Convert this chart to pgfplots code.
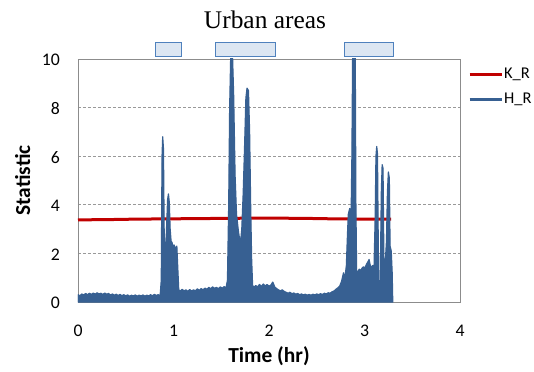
\documentclass[border=0pt]{standalone}
\usepackage{pgfplots}
\pgfplotsset{compat=1.18}
\usepackage{fontspec}
\setmainfont{Carlito}
\newfontfamily\titlefont{Liberation Serif}
\definecolor{hblue}{RGB}{55,96,146}
\definecolor{kred}{RGB}{192,0,0}
\definecolor{boxfill}{RGB}{220,230,242}
\definecolor{boxline}{RGB}{79,129,189}
\begin{document}
\begin{tikzpicture}
\begin{axis}[
  name=ax, scale only axis, width=382bp, height=243bp,
  xmin=0, xmax=4, ymin=0, ymax=10,
  xtick={0,1,2,3,4}, ytick={0,2,4,6,8,10},
  ymajorgrids, grid style={dash pattern=on 3bp off 2bp, line width=0.9bp, black!40},
  axis line style={black!45, line width=0.8bp},
  major tick length=0pt,
  /pgf/number format/assume math mode=true,
  tick label style={font=\fontsize{17.8}{20}\selectfont},
  xticklabel style={anchor=center, yshift=-29bp},
  yticklabel style={anchor=east, inner sep=0pt, xshift=-18bp, yshift=-1bp},
  xlabel={Time (hr)}, ylabel={Statistic},
  label style={font=\bfseries\fontsize{21.5}{24}\selectfont},
  xlabel style={at={(axis description cs:0.5,0)}, anchor=center, yshift=-54bp},
  ylabel style={at={(axis description cs:-0.145,0.5)}, anchor=center, rotate=0},
  title={Urban areas},
  title style={font=\titlefont\fontsize{25.5}{30}\selectfont, at={(axis description cs:0.5,1)}, anchor=center, yshift=33bp, xshift=-4bp},
  legend style={draw=none, fill=none, at={(axis description cs:1.013,0.883)}, anchor=west,
    font=\fontsize{16.5}{19}\selectfont, row sep=9bp,
    nodes={inner sep=1bp, text height=11bp, text depth=3bp}},
  legend cell align=left,
  legend image code/.code={\draw[#1, line width=3bp] (0bp,0bp) -- (32bp,0bp);},
]
\addplot[kred, line width=3bp] coordinates {
(0,3.38) (0.3,3.39) (0.6,3.41) (0.9,3.42) (1.2,3.43) (1.5,3.44) (1.8,3.45)
(2.1,3.45) (2.4,3.44) (2.7,3.42) (3.0,3.41) (3.28,3.41)};
\addlegendentry{K\_R}
\addplot[hblue, fill=hblue, line width=1.2bp, line join=round, forget plot] coordinates {
(0.00,0.30) (0.02,0.26) (0.04,0.33) (0.06,0.29) (0.08,0.35) (0.10,0.30) (0.12,0.36)
(0.14,0.31) (0.16,0.37) (0.18,0.32) (0.20,0.38) (0.22,0.33) (0.24,0.36) (0.26,0.31)
(0.28,0.37) (0.30,0.32) (0.32,0.35) (0.34,0.29) (0.36,0.33) (0.38,0.28) (0.40,0.32)
(0.42,0.27) (0.44,0.31) (0.46,0.26) (0.48,0.30) (0.50,0.25) (0.52,0.29) (0.54,0.24)
(0.56,0.28) (0.58,0.25) (0.60,0.29) (0.62,0.24) (0.64,0.28) (0.66,0.25) (0.68,0.29)
(0.70,0.24) (0.72,0.28) (0.74,0.25) (0.76,0.30) (0.78,0.26) (0.80,0.31) (0.82,0.27)
(0.84,0.30) (0.86,0.26)
(0.872,0.9) (0.880,6.0) (0.887,6.8) (0.895,6.3) (0.903,2.6) (0.912,2.0) (0.925,2.8)
(0.938,4.2) (0.947,4.45) (0.956,4.1) (0.965,3.0) (0.975,2.5) (0.985,2.45) (0.995,2.2)
(1.005,2.35) (1.02,2.2) (1.035,2.3) (1.045,1.4) (1.055,0.5)
(1.07,0.45) (1.09,0.52) (1.11,0.46) (1.13,0.50) (1.15,0.44) (1.17,0.51) (1.19,0.45)
(1.21,0.50) (1.23,0.46) (1.25,0.54) (1.27,0.48) (1.29,0.55) (1.31,0.50) (1.33,0.57)
(1.35,0.52) (1.37,0.60) (1.39,0.55) (1.41,0.62) (1.43,0.56) (1.45,0.60) (1.47,0.55)
(1.49,0.62) (1.51,0.57) (1.53,0.63) (1.55,0.58)
(1.565,0.9) (1.578,4.0) (1.588,8.0) (1.600,10.3) (1.617,10.3) (1.630,8.5) (1.645,5.2)
(1.66,3.6) (1.68,2.9) (1.70,2.4) (1.715,3.0) (1.73,4.5) (1.745,6.5) (1.758,8.4)
(1.770,8.8) (1.785,8.7) (1.797,7.0) (1.808,4.0) (1.818,1.8) (1.828,0.7)
(1.84,0.60) (1.86,0.68) (1.88,0.62) (1.90,0.72) (1.92,0.64) (1.94,0.74) (1.96,0.66)
(1.98,0.72) (2.00,0.65) (2.02,0.70) (2.04,0.82) (2.06,0.62) (2.08,0.55) (2.10,0.50)
(2.12,0.46) (2.14,0.50) (2.16,0.43) (2.18,0.40) (2.20,0.36) (2.22,0.40) (2.24,0.34)
(2.26,0.37) (2.28,0.32) (2.30,0.35) (2.32,0.30) (2.34,0.33) (2.36,0.29) (2.38,0.32)
(2.40,0.28) (2.42,0.31) (2.44,0.28) (2.46,0.32) (2.48,0.29) (2.50,0.33) (2.52,0.30)
(2.54,0.34) (2.56,0.31) (2.58,0.36) (2.60,0.33) (2.62,0.38) (2.64,0.36) (2.66,0.42)
(2.68,0.45) (2.70,0.52) (2.72,0.58) (2.74,0.65) (2.76,0.85) (2.78,1.2) (2.795,1.0)
(2.81,1.5) (2.82,2.6) (2.83,3.6) (2.845,3.85) (2.86,3.6) (2.868,6.0) (2.876,10.3)
(2.903,10.3) (2.91,4.0) (2.918,1.1) (2.93,1.25) (2.945,1.35) (2.96,1.3) (2.975,1.4)
(2.99,1.45) (3.005,1.4) (3.02,1.55) (3.035,1.65) (3.048,1.75) (3.058,1.55) (3.07,1.4)
(3.085,1.5) (3.10,1.45) (3.112,3.5) (3.12,6.0) (3.128,6.4) (3.136,6.1) (3.144,2.5)
(3.150,0.2) (3.160,0.2) (3.167,1.5) (3.176,4.5) (3.185,5.65) (3.194,5.5) (3.203,1.8)
(3.215,1.45) (3.23,2.5) (3.240,4.5) (3.250,5.35) (3.260,5.1) (3.268,2.3) (3.28,2.1)
(3.29,1.2) (3.296,0.0)} \closedcycle;
\addlegendimage{hblue}
\addlegendentry{H\_R}
\coordinate (b1a) at (axis cs:0.806,10.12);
\coordinate (b1b) at (axis cs:1.079,10.67);
\coordinate (b2a) at (axis cs:1.435,10.12);
\coordinate (b2b) at (axis cs:2.063,10.67);
\coordinate (b3a) at (axis cs:2.785,10.12);
\coordinate (b3b) at (axis cs:3.298,10.67);
\end{axis}
\draw[boxline, fill=boxfill, line width=0.8bp] (b1a) rectangle (b1b);
\draw[boxline, fill=boxfill, line width=0.8bp] (b2a) rectangle (b2b);
\draw[boxline, fill=boxfill, line width=0.8bp] (b3a) rectangle (b3b);
\pgfresetboundingbox
\path[use as bounding box] (ax.south west) ++(-78bp,-70bp) rectangle ++(534bp,372bp);
\end{tikzpicture}
\end{document}
